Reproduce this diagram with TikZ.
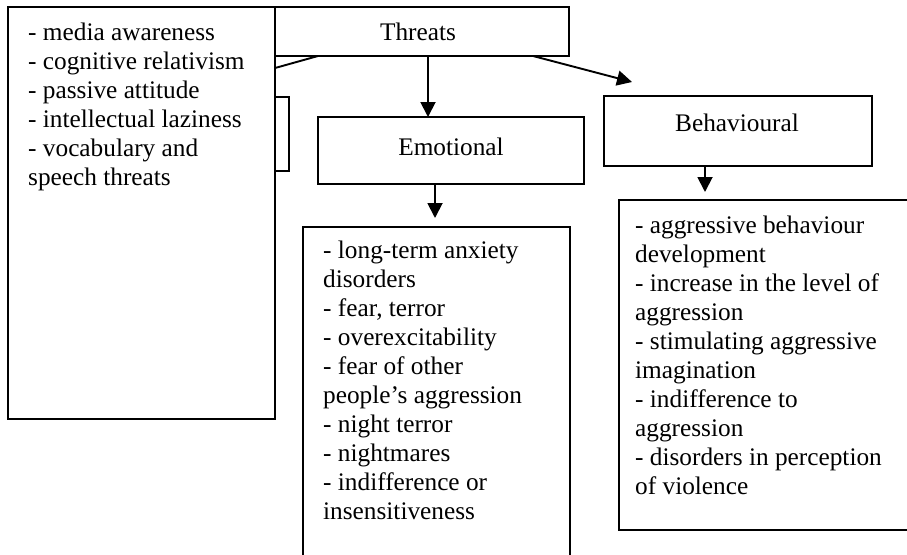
\documentclass[tikz,border=0pt]{standalone}
\usepackage{fontspec}
\setmainfont{Liberation Serif}
\usetikzlibrary{arrows.meta}
\begin{document}
\begin{tikzpicture}[x=1pt,y=-1pt,
  box/.style={draw, line width=1.9pt, fill=white, inner sep=0pt, outer sep=0pt, anchor=north west},
  conn/.style={line width=1.9pt, -{Triangle[length=15pt,width=15pt]}},
  plainline/.style={line width=1.9pt},
  txt/.style={inner sep=0pt, anchor=base west, font=\fontsize{25.3}{29.1}\selectfont},
  lbl/.style={inner sep=0pt, anchor=base, font=\fontsize{25.3}{29}\selectfont}]
\path[use as bounding box, fill=white] (0,0) rectangle (907,554);
\clip (0,0) rectangle (907,554);
% Threats header (left part hidden under the left box)
\node[box, minimum width=301pt, minimum height=49pt] (threats) at (268,7) {};
\node[lbl] (threatstxt) at (418,40) {Threats};
% hidden branch behind the left box
\node[box, minimum width=189pt, minimum height=74pt] (cog) at (100,97) {};
\coordinate (c1) at (318,0);
\coordinate (cg) at (200,89);
\draw[plainline] (threats.south -| c1) -- (cg);
% left box on top
\node[box, minimum width=267pt, minimum height=412pt] (media) at (8,7) {};
\node[txt] (mediatxt) at (28,40) {\parbox[t]{245pt}{\raggedright
- media awareness\\
- cognitive relativism\\
- passive attitude\\
- intellectual laziness\\
- vocabulary and\\
speech threats}};
% Emotional
\node[box, minimum width=266pt, minimum height=67pt] (emo) at (318,117) {};
\node[lbl] (emotxt) at (451,155) {Emotional};
% Behavioural
\node[box, minimum width=268pt, minimum height=70pt] (beh) at (604,96) {};
\node[lbl] (behtxt) at (737,131) {Behavioural};
% Emotional list
\node[box, minimum width=267pt, minimum height=400pt] (emolist) at (303,227) {};
\node[txt] (emolisttxt) at (323,258) {\parbox[t]{245pt}{\raggedright
- long-term anxiety\\
disorders\\
- fear, terror\\
- overexcitability\\
- fear of other\\
people’s aggression\\
- night terror\\
- nightmares\\
- indifference or\\
insensitiveness}};
% Behavioural list
\node[box, minimum width=300pt, minimum height=330pt] (behlist) at (619,200) {};
\node[txt] (behlisttxt) at (635,233) {\parbox[t]{265pt}{\raggedright
- aggressive behaviour\\
development\\
- increase in the level of\\
aggression\\
- stimulating aggressive\\
imagination\\
- indifference to\\
aggression\\
- disorders in perception\\
of violence}};
% connectors
\coordinate (a1) at (428,0);
\draw[conn] (threats.south -| a1) -- (emo.north -| a1);
\coordinate (a2) at (435,218);
\draw[conn] (emo.south -| a2) -- (a2);
\coordinate (a3) at (705,192);
\draw[conn] (beh.south -| a3) -- (a3);
\coordinate (a4s) at (533,0);
\coordinate (a4e) at (632,82);
\draw[conn] (threats.south -| a4s) -- (a4e);
\end{tikzpicture}
\end{document}
